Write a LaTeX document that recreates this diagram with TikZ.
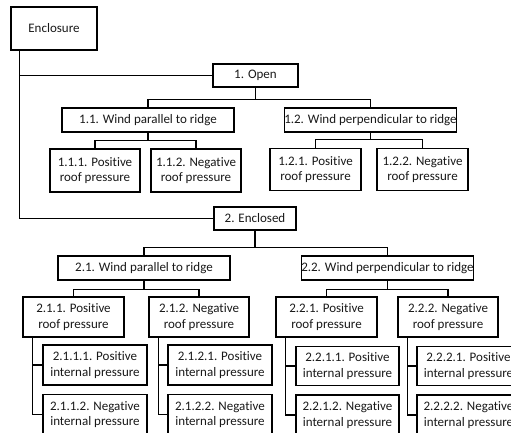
\documentclass[tikz,border=0pt]{standalone}
\usepackage{fontspec}
\setmainfont{Carlito}[Ligatures=NoCommon]
\usetikzlibrary{calc}
\begin{document}
\begin{tikzpicture}[x=1pt,y=-1pt,
  box/.style={draw=black, line width=1.1pt, inner sep=0pt, align=center,
    font=\fontsize{13}{15.5}\selectfont, text=black!90},
  conn/.style={line width=1.1pt, draw=black}]
\useasboundingbox (0,0) rectangle (511,432);
\clip (0,0) rectangle (511,432);
\fill[white] (0,0) rectangle (511,432);

% level 0
\node[box, minimum width=86pt, minimum height=43pt] (enc) at (54,28.5) {Enclosure};

% branch 1
\node[box, minimum width=85pt, minimum height=23pt] (open) at (255.5,75.5) {1. Open};
\node[box, minimum width=172pt, minimum height=24pt] (p11) at (148,120) {1.1. Wind parallel to ridge};
\node[box, minimum width=171pt, minimum height=24pt] (p12) at (370.5,120) {1.2. Wind perpendicular to ridge};
\node[box, minimum width=90pt, minimum height=43pt] (p111) at (95,170.5) {1.1.1. Positive\\roof pressure};
\node[box, minimum width=90pt, minimum height=43pt] (p112) at (196,170.5) {1.1.2. Negative\\roof pressure};
\node[box, minimum width=91pt, minimum height=42pt] (p121) at (315.5,169.5) {1.2.1. Positive\\roof pressure};
\node[box, minimum width=91pt, minimum height=42pt] (p122) at (422.5,169.5) {1.2.2. Negative\\roof pressure};

% branch 2
\node[box, minimum width=82pt, minimum height=23pt] (encl) at (255,218.5) {2. Enclosed};
\node[box, minimum width=172pt, minimum height=24pt] (p21) at (144,268) {2.1. Wind parallel to ridge};
\node[box, minimum width=171pt, minimum height=24pt] (p22) at (387.5,268) {2.2. Wind perpendicular to ridge};
\node[box, minimum width=101pt, minimum height=40pt] (p211) at (73.5,317) {2.1.1. Positive\\roof pressure};
\node[box, minimum width=100pt, minimum height=40pt] (p212) at (199,317) {2.1.2. Negative\\roof pressure};
\node[box, minimum width=101pt, minimum height=40pt] (p221) at (326.5,317) {2.2.1. Positive\\roof pressure};
\node[box, minimum width=100pt, minimum height=40pt] (p222) at (448,317) {2.2.2. Negative\\roof pressure};

\node[box, minimum width=104pt, minimum height=40pt] (p2111) at (95,365) {2.1.1.1. Positive\\internal pressure};
\node[box, minimum width=104pt, minimum height=40pt] (p2112) at (95,414.5) {2.1.1.2. Negative\\internal pressure};
\node[box, minimum width=104pt, minimum height=40pt] (p2121) at (220,365) {2.1.2.1. Positive\\internal pressure};
\node[box, minimum width=104pt, minimum height=40pt] (p2122) at (220,414.5) {2.1.2.2. Negative\\internal pressure};
\node[box, minimum width=103pt, minimum height=39pt] (p2211) at (347.5,366) {2.2.1.1. Positive\\internal pressure};
\node[box, minimum width=103pt, minimum height=40pt] (p2212) at (347.5,415) {2.2.1.2. Negative\\internal pressure};
\node[box, minimum width=103pt, minimum height=39pt] (p2221) at (468.5,366) {2.2.2.1. Positive\\internal pressure};
\node[box, minimum width=103pt, minimum height=40pt] (p2222) at (468.5,415) {2.2.2.2. Negative\\internal pressure};

% connectors
\coordinate (tr) at ($(enc.south west)+(9,0)$);
\draw[conn] (tr) |- (open.west);
\draw[conn] (tr) |- (encl.west);

\draw[conn] (open.south) -- ++(0,12) -| (p11.north);
\draw[conn] (open.south) -- ++(0,12) -| (p12.north);
\draw[conn] (p11.south) -- ++(0,8) -| (p111.north);
\draw[conn] (p11.south) -- ++(0,8) -| (p112.north);
\draw[conn] (p12.south) -- ++(0,7) -| (p121.north);
\draw[conn] (p12.south) -- ++(0,7) -| (p122.north);

\draw[conn] (encl.south) -- ++(0,17) -| (p21.north);
\draw[conn] (encl.south) -- ++(0,17) -| (p22.north);
\draw[conn] (p21.south) -- ++(0,9) -| (p211.north);
\draw[conn] (p21.south) -- ++(0,9) -| (p212.north);
\draw[conn] (p22.south) -- ++(0,9) -| (p221.north);
\draw[conn] (p22.south) -- ++(0,9) -| (p222.north);

\coordinate (s211) at ($(p211.south west)+(10,0)$);
\draw[conn] (s211) |- (p2111.west);
\draw[conn] (s211) |- (p2112.west);
\coordinate (s212) at ($(p212.south west)+(10,0)$);
\draw[conn] (s212) |- (p2121.west);
\draw[conn] (s212) |- (p2122.west);
\coordinate (s221) at ($(p221.south west)+(10,0)$);
\draw[conn] (s221) |- (p2211.west);
\draw[conn] (s221) |- (p2212.west);
\coordinate (s222) at ($(p222.south west)+(10,0)$);
\draw[conn] (s222) |- (p2221.west);
\draw[conn] (s222) |- (p2222.west);
\end{tikzpicture}
\end{document}
